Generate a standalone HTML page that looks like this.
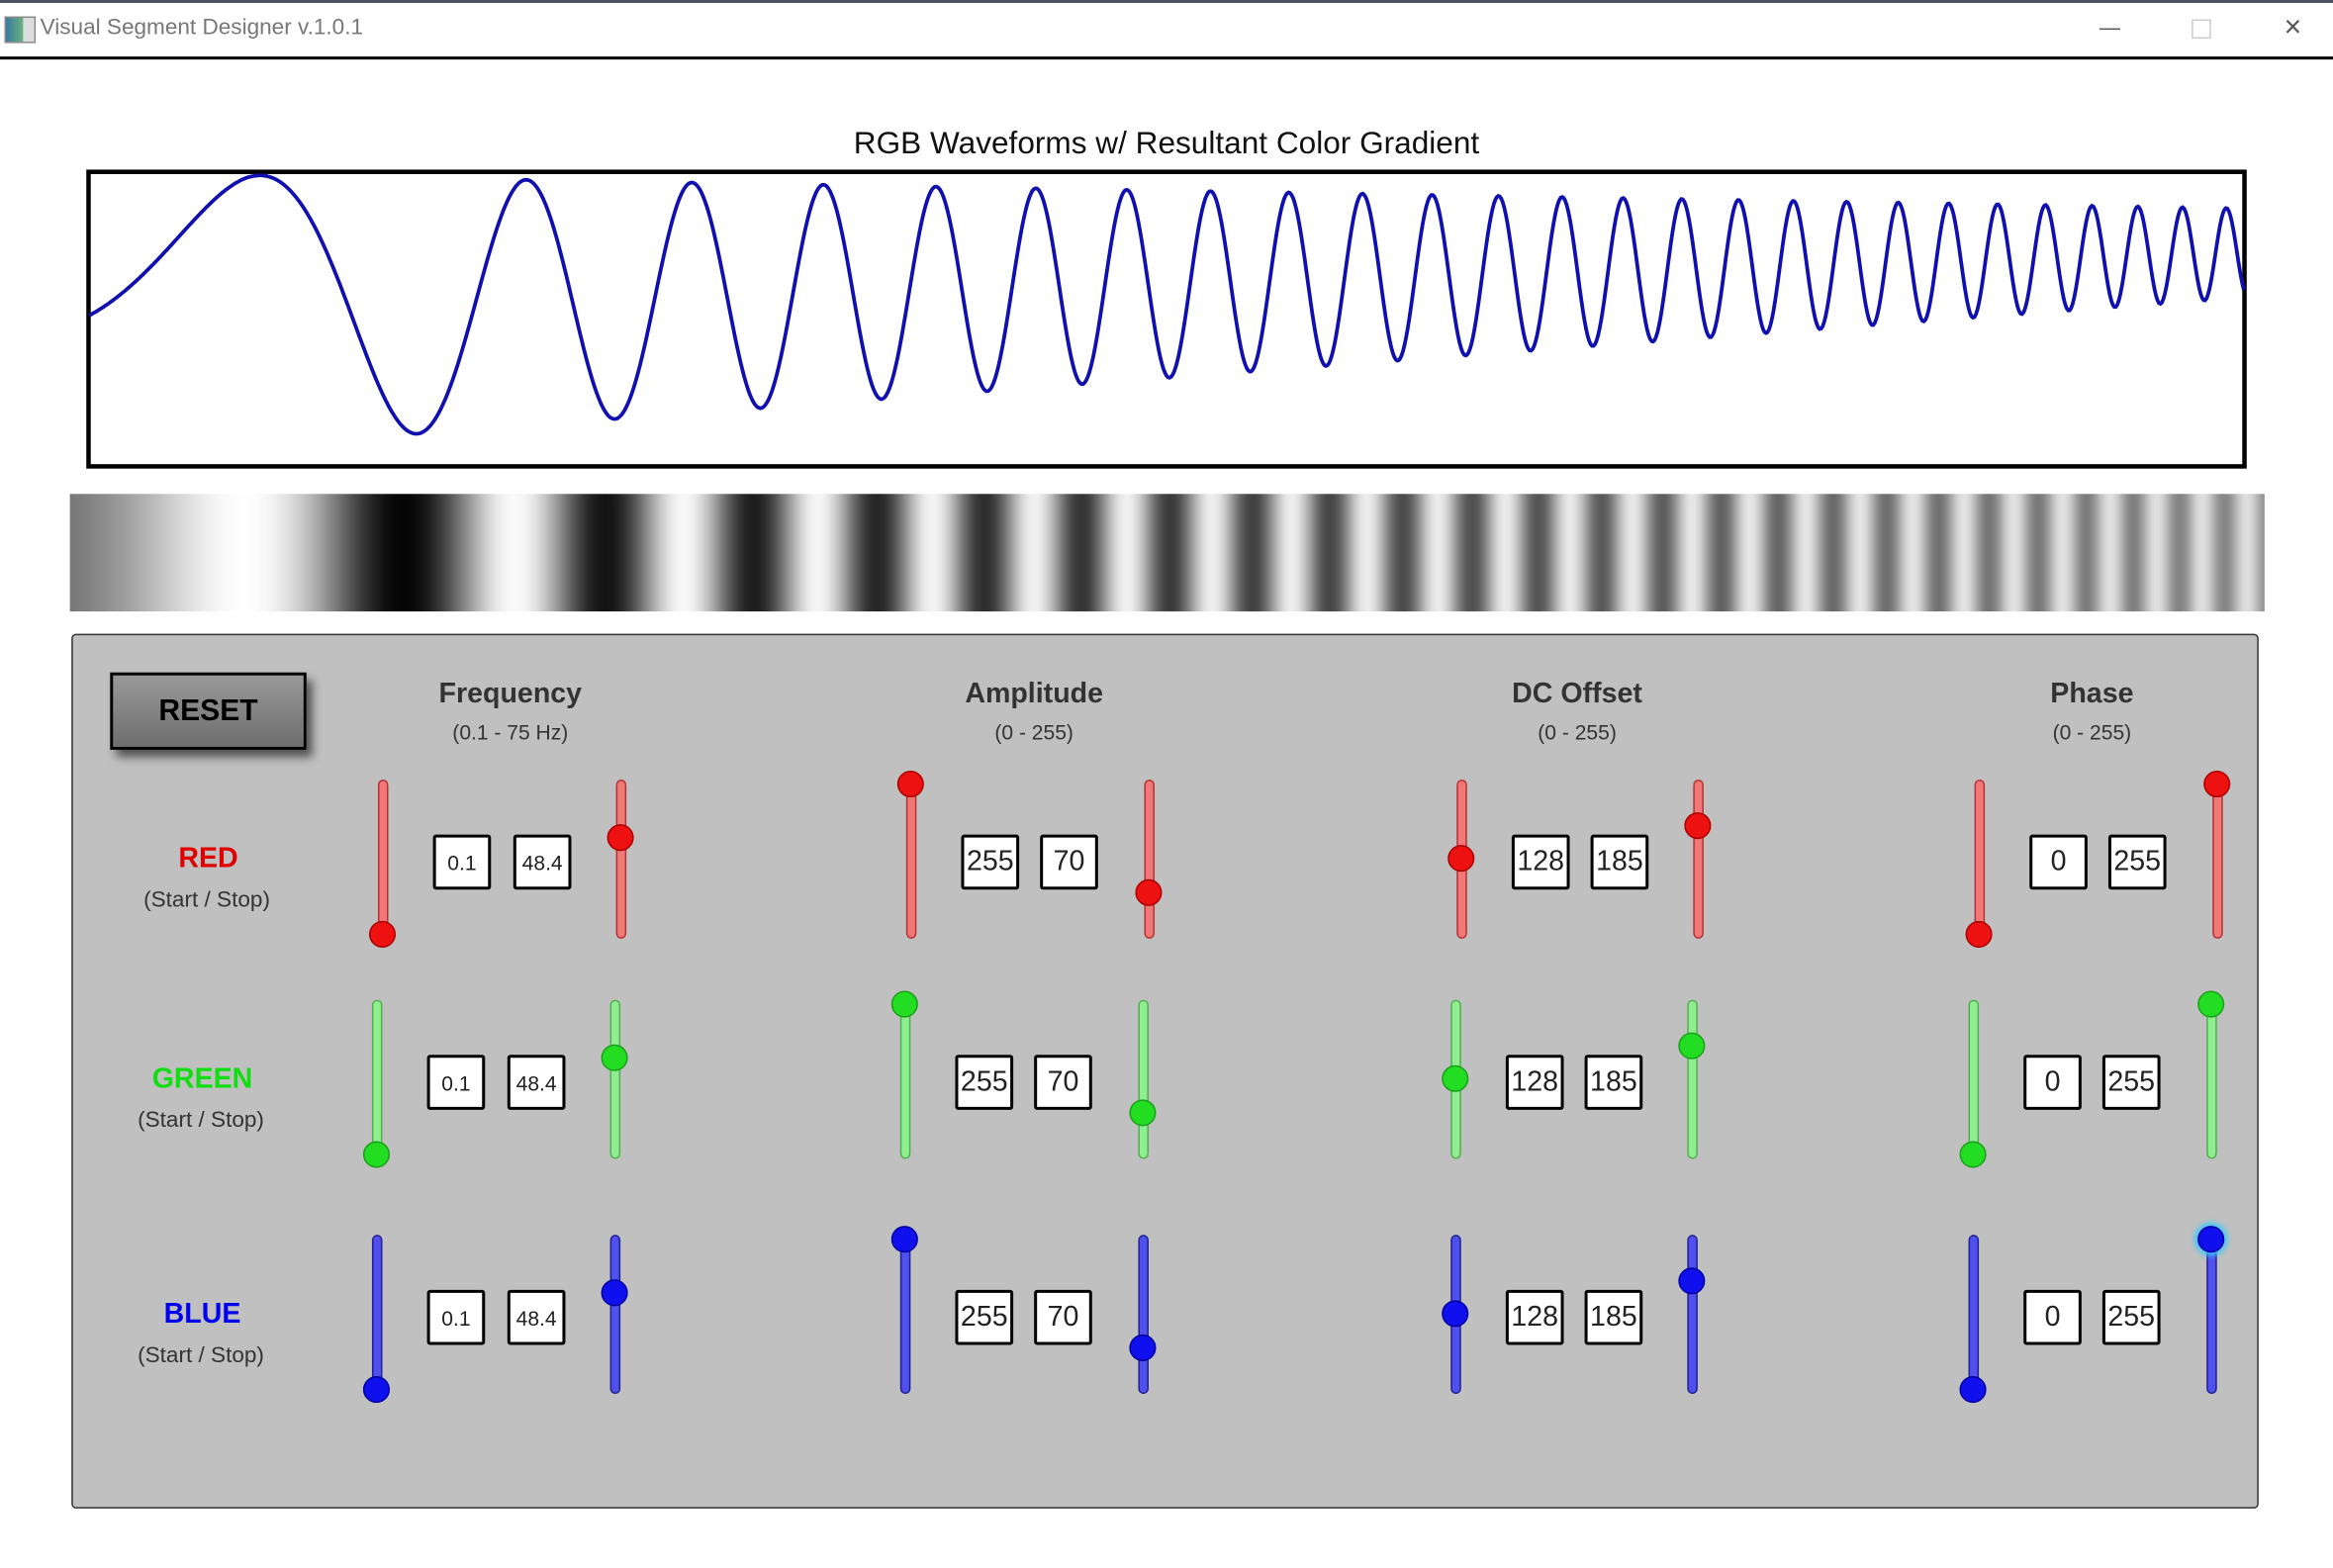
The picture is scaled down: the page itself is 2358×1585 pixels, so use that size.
<!DOCTYPE html>
<html><head><meta charset="utf-8"><style>
html,body{margin:0;padding:0;background:#fff;overflow:hidden}
body{width:2358px;height:1585px;position:relative}
#root{position:absolute;left:0;top:0;width:1568px;height:1054px;transform:scale(1.50383);transform-origin:0 0;font-family:"Liberation Sans",sans-serif}
.a{position:absolute}
.t{position:absolute;white-space:nowrap;transform:translate(-50%,-50%)}
.box{position:absolute;background:#fff;border:2.5px solid #000;border-radius:2px;box-sizing:border-box;display:flex;align-items:center;justify-content:center;color:#222}
</style></head><body><div id="root">
<div class="a" style="left:0;top:0;width:1568px;height:2px;background:#4a5560"></div>
<div class="a" style="left:3px;top:11px;width:19px;height:16px;background:linear-gradient(90deg,#3a7aa0,#6ab080 60%,#ddd 61%);border:1px solid #888"></div>
<div class="a" style="left:27px;top:10px;font-size:15px;color:#777">Visual Segment Designer v.1.0.1</div>
<div class="a" style="left:1411px;top:19px;width:14px;height:1px;background:#555"></div>
<div class="a" style="left:1473px;top:13px;width:11px;height:11px;border:1px solid #ccc"></div>
<div class="t" style="left:1541px;top:19px;font-size:20px;color:#555">×</div>
<div class="a" style="left:0;top:38px;width:1568px;height:2px;background:#000"></div>
<div class="t" style="left:784px;top:97px;font-size:21px;color:#111">RGB Waveforms w/ Resultant Color Gradient</div>
<svg class="a" style="left:0;top:0" width="1568" height="1054" id="sv">
<defs><linearGradient id="g" x1="0" x2="1" y1="0" y2="0"></linearGradient></defs>
<rect x="47" y="332" width="1475" height="79" fill="url(#g)"/>
<rect x="59.5" y="115.5" width="1449" height="198" fill="none" stroke="#000" stroke-width="3"/>
<path id="wv" fill="none" stroke="#1010b0" stroke-width="2.5"/>
</svg>
<div class="a" style="left:48px;top:426px;width:1470px;height:588px;background:#c0c0c0;border:1.5px solid #333;border-radius:3px;box-sizing:border-box"></div>
<div class="a" style="left:74px;top:452px;width:132px;height:52px;box-sizing:border-box;border:2px solid #000;background:linear-gradient(#999,#6e6e6e);box-shadow:4px 5px 6px rgba(0,0,0,.6);display:flex;align-items:center;justify-content:center;font-weight:bold;font-size:20px;color:#000">RESET</div>
<div id="dyn"></div>
</div>
<script>
var P='';
var g=document.querySelector('linearGradient');var stops='';
for(var x=60;x<=1508;x+=1){var u=x-60;var ph=Math.PI*(2.332e-5*u*u+0.001666*u);var mid=212-42*u/1448,amp=96-66*u/1448;var y=mid-amp*Math.sin(ph);if(y<117)y=117;P+=(x==60?'M':'L')+x+' '+y.toFixed(1);
if(u%2==0){var gv=Math.max(0,Math.min(255,Math.round((295-y)/178*255)));stops+='<stop offset="'+(u/1448).toFixed(4)+'" stop-color="rgb('+gv+','+gv+','+gv+')"/>';}}
document.getElementById('wv').setAttribute('d',P);g.innerHTML=stops;
var h='';
function T(x,y,s,st){h+='<div class="t" style="left:'+x+'px;top:'+y+'px;'+st+'">'+s+'</div>';}
[['Frequency',343,'(0.1 - 75 Hz)'],['Amplitude',695,'(0 - 255)'],['DC Offset',1060,'(0 - 255)'],['Phase',1406,'(0 - 255)']].forEach(function(c){T(c[1],467,c[0],'font-weight:bold;font-size:19px;color:#333');T(c[1],492,c[2],'font-size:14px;color:#333');});
var rows=[['RED',140,578,'#e00000',524,0,['#f07878','#b83030','#ee1111','#a00']],['GREEN',136,726,'#11dd11',672,-4,['#90ee90','#50b050','#22dd22','#18a018']],['BLUE',136,884,'#0000ee',830,-4,['#5050ee','#202090','#1010ee','#0000a0']]];
var cols=[[257,417,291,345,['0.1','48.4'],14],[612,772,646,699,['255','70'],19],[982,1141,1016,1069,['128','185'],19],[1330,1490,1364,1417,['0','255'],19]];
var th=[[104,39],[3,76],[53,31],[104,3]];
rows.forEach(function(r,ri){T(r[1],r[2],r[0],'font-weight:bold;font-size:19px;color:'+r[3]);T(r[1]-1,r[2]+27,'(Start / Stop)','font-size:15px;color:#333');
var top=r[4],dx=r[5],c=r[6];
cols.forEach(function(cl,ci){[cl[0],cl[1]].forEach(function(sx,k){sx+=dx;
h+='<div class="a" style="left:'+(sx-3.5)+'px;top:'+top+'px;width:7px;height:107px;border-radius:4px;background:'+c[0]+';border:1px solid '+c[1]+';box-sizing:border-box"></div>';
var ty=top+th[ci][k];var gl=(ri==2&&ci==3&&k==1)?'box-shadow:0 0 4px 2px #38c8ff;':'';
h+='<div class="a" style="left:'+(sx-9)+'px;top:'+(ty-9)+'px;width:18px;height:18px;border-radius:50%;background:'+c[2]+';border:1px solid '+c[3]+';box-sizing:border-box;'+gl+'"></div>';});
[cl[2],cl[3]].forEach(function(bx,k){bx+=dx;h+='<div class="box" style="left:'+bx+'px;top:'+(top+37)+'px;width:39px;height:37px;font-size:'+cl[5]+'px">'+cl[4][k]+'</div>';});});});
document.getElementById('dyn').innerHTML=h;
</script>
</body></html>
